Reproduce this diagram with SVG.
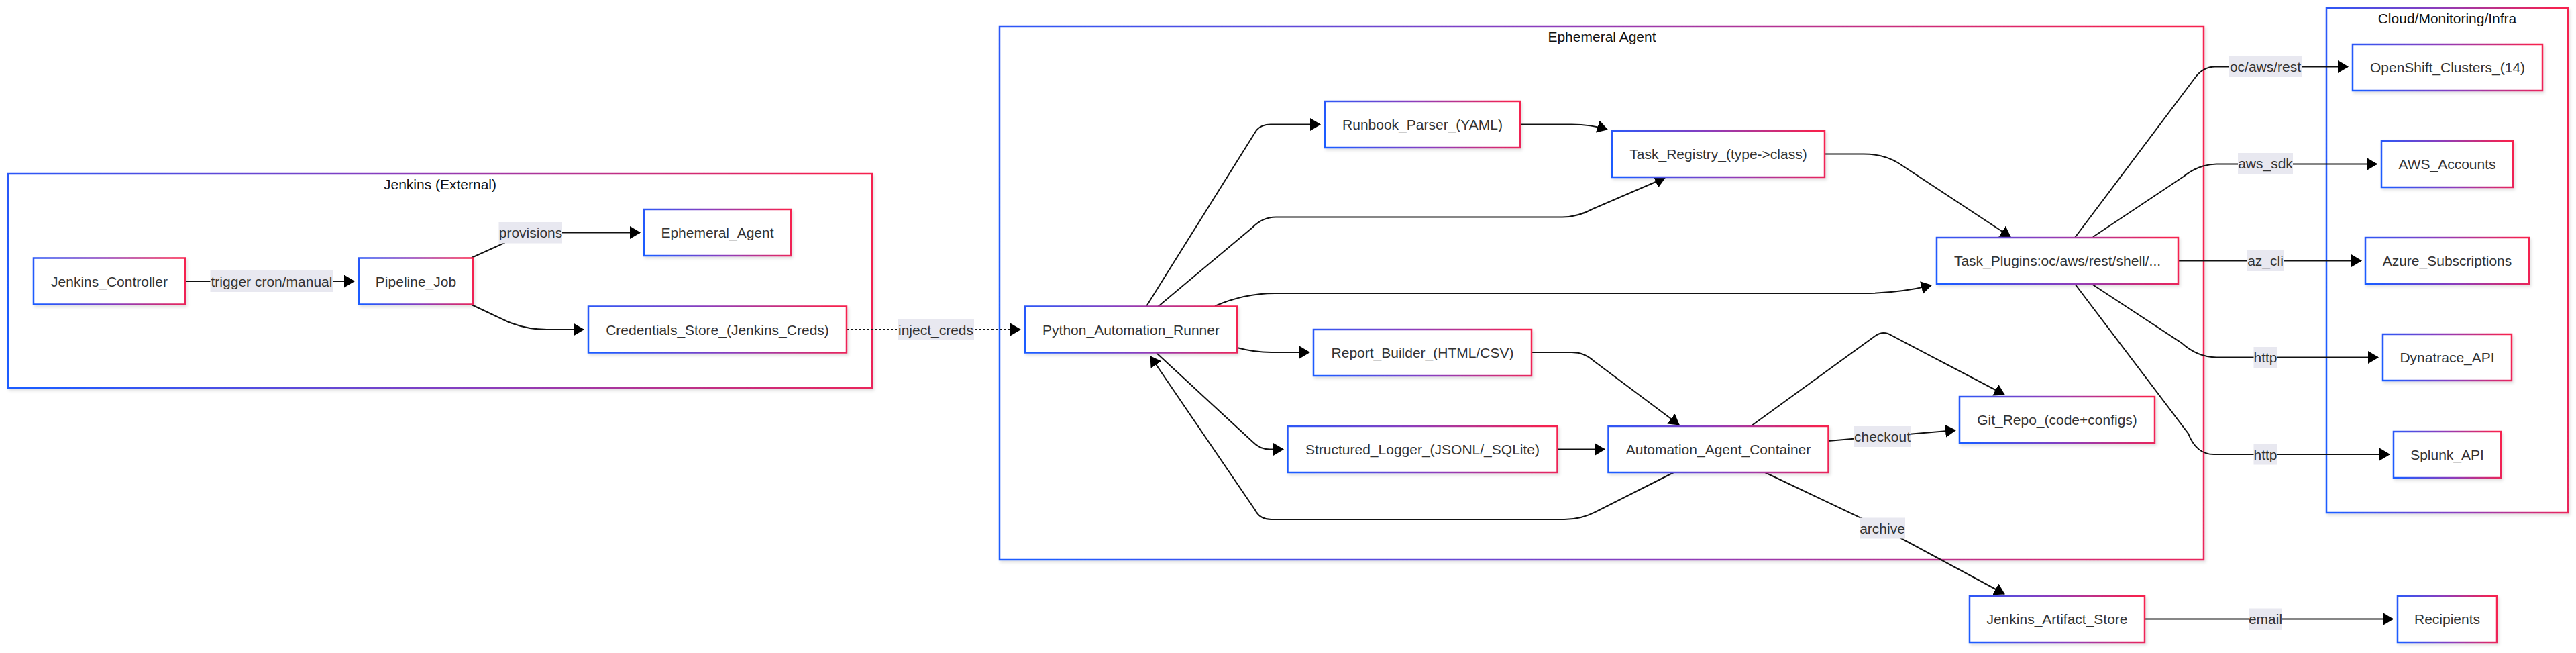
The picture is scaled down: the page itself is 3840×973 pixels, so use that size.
<svg xmlns="http://www.w3.org/2000/svg" width="3840" height="973" viewBox="0 0 3840 973">
<style>
  text { font-family: "Liberation Sans", Arial, Helvetica, sans-serif; font-size: 21px; text-anchor: middle; }
  .cluster rect { fill: #ffffff; stroke: url(#grad); stroke-width: 2.5; filter: url(#shadow); }
  .cluster text { fill: #111111; }
  .node rect { fill: #ffffff; stroke: url(#grad); stroke-width: 2.5; filter: url(#shadow); }
  .node text { fill: #333333; }
  .edge { fill: none; stroke: #111111; stroke-width: 2; marker-end: url(#arrow); }
  .dotted { stroke-dasharray: 3 3; }
  .elabel rect { fill: #e8e8f0; }
  .elabel text { fill: #333333; }
</style>
<defs>
  <linearGradient id="grad" x1="0" y1="0.55" x2="1" y2="0.45">
    <stop offset="0" stop-color="#1f5bff"/>
    <stop offset="0.5" stop-color="#8a3dbd"/>
    <stop offset="1" stop-color="#f5224f"/>
  </linearGradient>
  <filter id="shadow" x="-5%" y="-10%" width="110%" height="130%">
    <feDropShadow dx="2" dy="3" stdDeviation="2" flood-color="#000000" flood-opacity="0.12"/>
  </filter>
  <marker id="arrow" markerUnits="userSpaceOnUse" markerWidth="16" markerHeight="19" viewBox="0 0 16 19" refX="15" refY="9.5" orient="auto">
    <path d="M0,0 L16,9.5 L0,19 z" fill="#000000"/>
  </marker>
</defs>
<rect x="0" y="0" width="3840" height="973" fill="#ffffff"/>

<g id="clusters">
  <g id="cluster_jenkins" class="cluster">
    <rect x="12" y="259" width="1288" height="319"/>
    <text x="656" y="282">Jenkins (External)</text>
  </g>
  <g id="cluster_ephemeral" class="cluster">
    <rect x="1490" y="39" width="1795" height="795"/>
    <text x="2388" y="62">Ephemeral Agent</text>
  </g>
  <g id="cluster_cloud" class="cluster">
    <rect x="3468" y="12" width="360" height="752"/>
    <text x="3648" y="35">Cloud/Monitoring/Infra</text>
  </g>
</g>

<g id="connectors">
  <path class="edge" d="M276,419 L528,419"/>
  <path class="edge" d="M703,384 L752,362 Q762,346.5 778,346.5 L954,346.5"/>
  <path class="edge" d="M703,454 L756,479 Q785,491 815,491 L870,491"/>
  <path class="edge dotted" d="M1262,491 L1521,491"/>
  <path class="edge" d="M1708.5,457 L1873,194 Q1880,185.5 1894,185.5 L1968,185.5"/>
  <path class="edge" d="M1726,457 L1867,339 Q1882,323.5 1902,323.5 L2329,323.5 Q2352,323.5 2375,311 L2482,265"/>
  <path class="edge" d="M1811,456 Q1855,437 1900,437 L2778,437 Q2830,437 2879,425"/>
  <path class="edge" d="M2266,185.5 L2343,185.5 Q2372,185.5 2396,193"/>
  <path class="edge" d="M2720,229.5 L2778,229.5 Q2808,229.5 2830,243 L2997,353"/>
  <path class="edge" d="M1844,518 Q1870,525 1895,525 L1952,525"/>
  <path class="edge" d="M1724,526 L1867,658 Q1878,669.5 1893,669.5 L1913,669.5"/>
  <path class="edge" d="M2283,525 L2343,525 Q2362,525 2376,538 L2503,633"/>
  <path class="edge" d="M2322,669.5 L2392,669.5"/>
  <path class="edge" d="M2495,704 L2380,762 Q2357,774 2332,774 L1895,774 Q1878,774 1871,760 L1715,531"/>
  <path class="edge" d="M2610,635 L2796,500 Q2808,492 2820,500 L2988,588"/>
  <path class="edge" d="M2725,657 L2915,641"/>
  <path class="edge" d="M2631,704 L2806,787 L2988,885"/>
  <path class="edge" d="M3197,922.5 L3567,922.5"/>
  <path class="edge" d="M3093,354 L3272,116 Q3284,99.5 3302,99.5 L3500,99.5"/>
  <path class="edge" d="M3120,353 L3255,263 Q3278,244.5 3305,244.5 L3543,244.5"/>
  <path class="edge" d="M3247,388.5 L3520,388.5"/>
  <path class="edge" d="M3118,423 L3252,511 Q3276,532.5 3305,532.5 L3545,532.5"/>
  <path class="edge" d="M3093,423 L3262,646 Q3274,677 3300,677 L3562,677"/>

  <g class="elabel"><rect x="313.5" y="403" width="183.5" height="32"/><text x="405" y="426.5">trigger cron/manual</text></g>
  <g class="elabel"><rect x="743.5" y="331" width="94.5" height="31.5"/><text x="791" y="354">provisions</text></g>
  <g class="elabel"><rect x="1338" y="475" width="114" height="32"/><text x="1395" y="498.5">inject_creds</text></g>
  <g class="elabel"><rect x="2764" y="635" width="84" height="31"/><text x="2806" y="658">checkout</text></g>
  <g class="elabel"><rect x="2772" y="771.5" width="68" height="31"/><text x="2806" y="794.5">archive</text></g>
  <g class="elabel"><rect x="3352" y="906.5" width="50" height="31.5"/><text x="3377" y="930">email</text></g>
  <g class="elabel"><rect x="3323" y="84" width="108" height="31"/><text x="3377" y="107">oc/aws/rest</text></g>
  <g class="elabel"><rect x="3336" y="228" width="82" height="31"/><text x="3377" y="251">aws_sdk</text></g>
  <g class="elabel"><rect x="3350" y="373" width="54" height="31"/><text x="3377" y="396">az_cli</text></g>
  <g class="elabel"><rect x="3359.5" y="517" width="35" height="31.5"/><text x="3377" y="540">http</text></g>
  <g class="elabel"><rect x="3359.5" y="661" width="35" height="31.5"/><text x="3377" y="684.5">http</text></g>
</g>

<g id="Jenkins_Controller" class="node"><rect x="50" y="384.5" width="226" height="69"/><text x="163" y="426.5">Jenkins_Controller</text></g>
<g id="Pipeline_Job" class="node"><rect x="535" y="384.5" width="170" height="69"/><text x="620" y="426.5">Pipeline_Job</text></g>
<g id="Ephemeral_Agent" class="node"><rect x="960" y="312" width="219" height="69"/><text x="1069.5" y="354">Ephemeral_Agent</text></g>
<g id="Credentials_Store" class="node"><rect x="877" y="456.5" width="385" height="69"/><text x="1069.5" y="498.5">Credentials_Store_(Jenkins_Creds)</text></g>
<g id="Python_Automation_Runner" class="node"><rect x="1528" y="456.5" width="316" height="69"/><text x="1686" y="498.5">Python_Automation_Runner</text></g>
<g id="Runbook_Parser" class="node"><rect x="1975" y="151" width="291" height="69"/><text x="2120.5" y="193">Runbook_Parser_(YAML)</text></g>
<g id="Task_Registry" class="node"><rect x="2403" y="195" width="317" height="69"/><text x="2561.5" y="237">Task_Registry_(type-&gt;class)</text></g>
<g id="Task_Plugins" class="node"><rect x="2887" y="354" width="360" height="69"/><text x="3067" y="396">Task_Plugins:oc/aws/rest/shell/...</text></g>
<g id="Report_Builder" class="node"><rect x="1958" y="491" width="325" height="69"/><text x="2120.5" y="533">Report_Builder_(HTML/CSV)</text></g>
<g id="Structured_Logger" class="node"><rect x="1919.5" y="635" width="402" height="69"/><text x="2120.5" y="677">Structured_Logger_(JSONL/_SQLite)</text></g>
<g id="Automation_Agent_Container" class="node"><rect x="2397.5" y="635" width="328" height="69"/><text x="2561.5" y="677">Automation_Agent_Container</text></g>
<g id="Git_Repo" class="node"><rect x="2921" y="591" width="291" height="69"/><text x="3066.5" y="633">Git_Repo_(code+configs)</text></g>
<g id="Jenkins_Artifact_Store" class="node"><rect x="2936" y="888" width="261" height="69"/><text x="3066.5" y="930">Jenkins_Artifact_Store</text></g>
<g id="Recipients" class="node"><rect x="3574" y="888" width="148" height="69"/><text x="3648" y="930">Recipients</text></g>
<g id="OpenShift_Clusters" class="node"><rect x="3507" y="66" width="283" height="69"/><text x="3648.5" y="108">OpenShift_Clusters_(14)</text></g>
<g id="AWS_Accounts" class="node"><rect x="3550" y="210" width="196" height="69"/><text x="3648" y="252">AWS_Accounts</text></g>
<g id="Azure_Subscriptions" class="node"><rect x="3526" y="354" width="244" height="69"/><text x="3648" y="396">Azure_Subscriptions</text></g>
<g id="Dynatrace_API" class="node"><rect x="3552" y="498" width="192" height="69"/><text x="3648" y="540">Dynatrace_API</text></g>
<g id="Splunk_API" class="node"><rect x="3568" y="643" width="160" height="69"/><text x="3648" y="685">Splunk_API</text></g>
</svg>
